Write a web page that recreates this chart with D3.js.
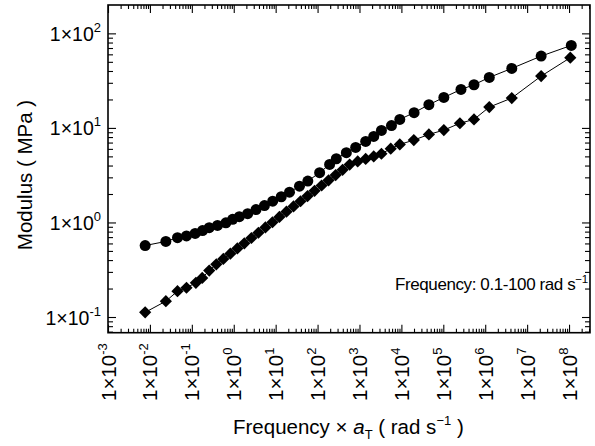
<!DOCTYPE html>
<html><head><meta charset="utf-8">
<script src="https://cdn.jsdelivr.net/npm/d3@7"></script>
<style>body{margin:0;background:#fff}svg{display:block}text{font-family:"Liberation Sans",Arial,sans-serif;fill:#000}</style>
</head><body><svg id="c" width="595" height="446"></svg>
<script>
// frequency × aT (rad/s) and modulus (MPa)
const circleFreq = [7.7e-3,0.024,0.0455,0.0746,0.12,0.18,0.26,0.41,0.65,0.94,1.36,2.15,3.4,5.4,8.5,13.6,21.4,37,58.6,112,194,280,486,811,1406,2188,3340,5800,9160,2.01e4,4.53e4,1.03e5,2.64e5,5.4e5,1.25e6,4.3e6,2.16e7,1.13e8];
const circleMod  = [0.57,0.63,0.69,0.72,0.765,0.82,0.88,0.93,0.99,1.08,1.15,1.24,1.37,1.51,1.68,1.87,2.09,2.42,2.74,3.36,4.11,4.72,5.47,6.22,7.2,8.13,9.4,10.6,12.3,14.5,17.6,21.0,25.5,28.6,34.2,42.6,57.5,74.6];
const diamondFreq = [7.7e-3,0.024,0.0455,0.0746,0.125,0.177,0.26,0.384,0.564,0.83,1.22,1.79,2.64,3.88,5.7,8.4,12.3,18.1,26.7,39.2,57.7,84.8,125,183,270,396,583,906,1406,2188,3340,5570,9160,1.98e4,4.53e4,1.03e5,2.49e5,5.4e5,1.25e6,4.3e6,2.16e7,1.07e8];
const diamondMod  = [0.112,0.147,0.1875,0.204,0.23,0.259,0.31,0.361,0.411,0.467,0.531,0.602,0.685,0.778,0.885,1.005,1.143,1.30,1.476,1.676,1.90,2.16,2.46,2.79,3.17,3.60,4.10,4.42,4.70,4.99,5.33,6.03,6.69,7.43,8.53,9.48,11.2,12.3,16.6,20.7,35.3,55.3];
const xTickExps = [-3,-2,-1,0,1,2,3,4,5,6,7,8];
const yTickExps = [-1,0,1,2];

const svg = d3.select("#c");
const L=108, R=590, T=5, B=332.7;
const x = d3.scaleLog().domain([1e-3, Math.pow(10,8.5)]).range([L,R]);
const y = d3.scaleLog().domain([Math.pow(10,-1.166), Math.pow(10,2.30)]).range([B,T]);

function minors(scale){
  const [a,b]=scale.domain(); const out=[];
  for(let e=Math.floor(Math.log10(a));e<=Math.ceil(Math.log10(b));e++){
    for(let m=2;m<=9;m++){const v=m*Math.pow(10,e); if(v>=a&&v<=b) out.push(v);}
  }
  return out;
}
const xMaj = xTickExps.map(e=>Math.pow(10,e)).filter(v=>v>=x.domain()[0]&&v<=x.domain()[1]);
const yMaj = yTickExps.map(e=>Math.pow(10,e));
const xMin = minors(x), yMin = minors(y);

function drawAxis(gen, scale, vals, size, tr){
  svg.append("g").attr("transform",tr)
    .call(gen(scale).tickValues(vals).tickSize(size).tickFormat(""))
    .call(g=>{g.select(".domain").remove(); g.selectAll("line").attr("stroke","#000").attr("stroke-width",1.1);});
}
drawAxis(d3.axisBottom,x,xMaj,-8,`translate(0,${B})`);
drawAxis(d3.axisBottom,x,xMin,-4,`translate(0,${B})`);
drawAxis(d3.axisTop,x,xMaj,-8,`translate(0,${T})`);
drawAxis(d3.axisTop,x,xMin,-4,`translate(0,${T})`);
drawAxis(d3.axisLeft,y,yMaj,-8,`translate(${L},0)`);
drawAxis(d3.axisLeft,y,yMin,-5,`translate(${L},0)`);
drawAxis(d3.axisRight,y,yMaj,-8,`translate(${R},0)`);
drawAxis(d3.axisRight,y,yMin,-5,`translate(${R},0)`);

svg.append("rect").attr("x",L).attr("y",T).attr("width",R-L).attr("height",B-T)
  .attr("fill","none").attr("stroke","#000").attr("stroke-width",1.6);

// y tick labels
yTickExps.forEach(e=>{
  const t=svg.append("text").attr("x",101).attr("y",y(Math.pow(10,e))+7.5).attr("text-anchor","end").attr("font-size",19.5);
  t.append("tspan").text("1×10");
  t.append("tspan").attr("dy",-9).attr("font-size",13).text(e);
});
// x tick labels rotated
xTickExps.forEach(e=>{
  const px=x(Math.pow(10,e));
  const t=svg.append("text").attr("transform",`translate(${px+7.5},401) rotate(-90)`).attr("font-size",20.5);
  t.append("tspan").text("1×10");
  t.append("tspan").attr("dy",-9).attr("font-size",13).text(e);
});

// axis titles
const yl=svg.append("text").attr("transform","translate(32,175) rotate(-90)").attr("text-anchor","middle").attr("font-size",20.5);
yl.text("Modulus ( MPa )");
const xl=svg.append("text").attr("x",233).attr("y",434).attr("font-size",20.5);
xl.append("tspan").text("Frequency × ");
xl.append("tspan").attr("font-style","italic").text("a");
xl.append("tspan").attr("font-size",13).attr("dy",5).text("T");
xl.append("tspan").attr("dy",-5).text(" ( rad s");
xl.append("tspan").attr("font-size",13).attr("dy",-9).text("−1");
xl.append("tspan").attr("dy",9).text(" )");

const an=svg.append("text").attr("x",395).attr("y",290).attr("font-size",17).attr("letter-spacing",-0.4);
an.append("tspan").text("Frequency: 0.1-100 rad  s");
an.append("tspan").attr("font-size",11.5).attr("dy",-7).text("−1");

// data
const circ = circleFreq.map((f,i)=>[f,circleMod[i]]);
const diam = diamondFreq.map((f,i)=>[f,diamondMod[i]]);
const line=d3.line().x(d=>x(d[0])).y(d=>y(d[1]));
svg.append("path").attr("d",line(circ)).attr("fill","none").attr("stroke","#000").attr("stroke-width",1);
svg.append("path").attr("d",line(diam)).attr("fill","none").attr("stroke","#000").attr("stroke-width",1);
svg.selectAll("circle.c").data(circ).enter().append("circle")
  .attr("cx",d=>x(d[0])).attr("cy",d=>y(d[1])).attr("r",5.5).attr("fill","#000");
const sym=d3.symbol().type(d3.symbolDiamond2).size(95);
svg.selectAll("path.d").data(diam).enter().append("path")
  .attr("transform",d=>`translate(${x(d[0])},${y(d[1])})`).attr("d",sym).attr("fill","#000");
</script></body></html>
